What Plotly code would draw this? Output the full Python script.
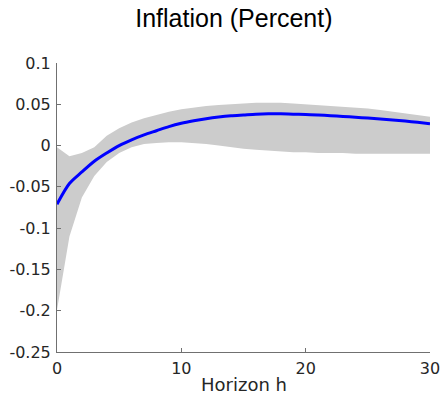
import plotly.graph_objects as go

horizon = list(range(31))
irf = [-0.071, -0.046, -0.032, -0.019, -0.009, 0.000, 0.007, 0.013, 0.018, 0.023,
       0.027, 0.030, 0.0325, 0.0345, 0.036, 0.037, 0.038, 0.0385, 0.0385, 0.038,
       0.0377, 0.037, 0.0362, 0.0353, 0.0343, 0.0333, 0.0322, 0.031, 0.0297, 0.0282, 0.0265]
upper = [-0.002, -0.013, -0.009, -0.002, 0.012, 0.021, 0.028, 0.033, 0.037, 0.041,
         0.044, 0.046, 0.048, 0.049, 0.050, 0.051, 0.052, 0.052, 0.052, 0.051,
         0.050, 0.049, 0.048, 0.047, 0.046, 0.045, 0.043, 0.041, 0.039, 0.037, 0.035]
lower = [-0.199, -0.110, -0.063, -0.037, -0.020, -0.009, -0.002, 0.002, 0.003, 0.004,
         0.004, 0.003, 0.002, 0.000, -0.002, -0.004, -0.005, -0.006, -0.007, -0.008,
         -0.008, -0.009, -0.009, -0.009, -0.010, -0.010, -0.010, -0.010, -0.010, -0.010, -0.010]

x_ticks = [0, 10, 20, 30]
y_ticks = [0.1, 0.05, 0, -0.05, -0.1, -0.15, -0.2, -0.25]
y_tick_labels = ["0.1", "0.05", "0", "-0.05", "-0.1", "-0.15", "-0.2", "-0.25"]

fig = go.Figure()
fig.add_trace(go.Scatter(x=horizon, y=upper, mode="lines", line=dict(width=0),
                         showlegend=False, hoverinfo="skip"))
fig.add_trace(go.Scatter(x=horizon, y=lower, mode="lines", line=dict(width=0),
                         fill="tonexty", fillcolor="#cccccc", showlegend=False, hoverinfo="skip"))
fig.add_trace(go.Scatter(x=horizon, y=irf, mode="lines",
                         line=dict(color="#0000ff", width=3, shape="spline", smoothing=0.8),
                         showlegend=False))

axis_common = dict(showgrid=False, zeroline=False, showline=True, linecolor="#707070",
                   linewidth=1, ticks="inside", ticklen=4, tickcolor="#707070",
                   ticklabelstandoff=2, automargin=False,
                   tickfont=dict(family="DejaVu Sans", size=16, color="#262626"))

fig.update_layout(
    width=443, height=395,
    margin=dict(l=57, r=13, t=63, b=43),
    paper_bgcolor="white", plot_bgcolor="white",
    title=dict(text="Inflation (Percent)", x=0.528, xanchor="center", y=0.953, yanchor="middle",
               font=dict(family="Liberation Sans", size=25, color="#000000")),
    xaxis=dict(range=[0, 30], tickvals=x_ticks, ticktext=[str(v) for v in x_ticks],
               **axis_common),
    yaxis=dict(range=[-0.25, 0.1], tickvals=y_ticks, ticktext=y_tick_labels, **axis_common),
    annotations=[dict(text="Horizon h", xref="paper", yref="paper", x=0.5, y=-0.114,
                      xanchor="center", yanchor="middle", showarrow=False,
                      font=dict(family="DejaVu Sans", size=18, color="#262626"))],
)

fig.write_html("out.html", config={"displayModeBar": False},
               post_script="document.body.style.margin='0';document.body.style.overflow='hidden';")
